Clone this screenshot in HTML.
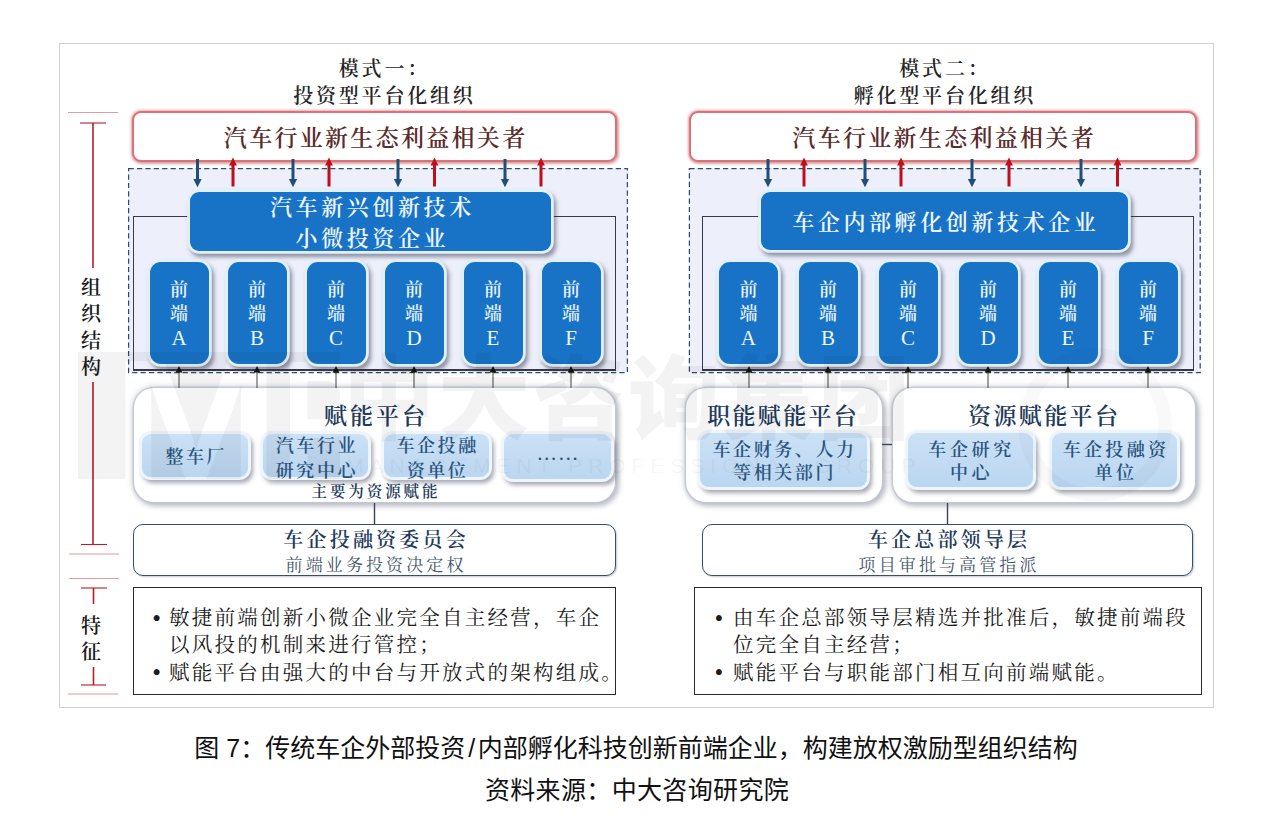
<!DOCTYPE html>
<html lang="zh-CN">
<head>
<meta charset="utf-8">
<title>图7</title>
<style>
*{box-sizing:border-box;margin:0;padding:0}
html,body{width:1278px;height:818px;background:#fff;overflow:hidden}
body{position:relative;font-family:"Liberation Serif","Noto Serif CJK SC",serif;color:#1a1a1a}
.abs{position:absolute}
.frame{left:59px;top:43px;width:1155px;height:665px;border:1px solid #d2d2d2}
.ttl{font-size:20px;font-weight:600;letter-spacing:2.8px;padding-left:2.8px;text-align:center;line-height:27px;color:#262626;white-space:nowrap}
.redbox{border:2.4px solid #db7279;border-radius:9px;background:#fff;box-shadow:0 0 2.5px 0.5px rgba(219,114,121,.6),1.5px 2px 3px rgba(120,60,60,.3);
 font-size:23px;font-weight:600;letter-spacing:2.3px;padding-left:2.3px;color:#5b2c2c;text-align:center;white-space:nowrap}
.dash{background:#edeffb}
.inner{border:1.8px solid #3a3a46;border-bottom-width:2.2px;border-top:none}
.blue{background:#1873c6;border-radius:9px;color:#eef6ff;text-align:center;white-space:nowrap;
 box-shadow:0 0 0 2.8px #e1f1fc,2.5px 3.5px 4px 2px rgba(50,50,70,.5)}
.main{font-size:22px;font-weight:600;letter-spacing:3.6px;padding-left:3.6px}
.fe{width:59px;height:102px;top:261.5px;margin-left:.5px;font-size:18px;font-weight:600;line-height:24px;padding-top:16.5px;border-radius:11px}
.fe i{font-style:normal;font-weight:400;font-size:21px}
.plat{background:#fff;border-radius:20px;box-shadow:0 0 0 1.5px rgba(196,200,210,.85),0 0 6px 1px rgba(150,155,170,.5),2.5px 3px 5px 1px rgba(110,115,130,.4)}
.pt{font-size:23px;font-weight:600;letter-spacing:3px;padding-left:3px;color:#1f3b5e;text-align:center;white-space:nowrap}
.lb{background:linear-gradient(#cbe1f6,#bad6f0);border-radius:9px;box-shadow:0 0 0 3px #eef5fc,2.5px 3.5px 4px 2.5px rgba(80,85,105,.5);
 color:#2a547f;font-size:18px;font-weight:600;letter-spacing:2.6px;padding-left:2.6px;text-align:center;line-height:24px;white-space:nowrap;display:flex;align-items:center;justify-content:center}
.cmt{border:1.3px solid #35506e;border-radius:10px;background:#fff;text-align:center;white-space:nowrap;box-shadow:1px 1px 2px rgba(80,100,130,.35)}
.cmt b{display:block;font-size:20px;font-weight:600;letter-spacing:3.2px;padding-left:3.2px;color:#1f3b5e;line-height:26px;margin-top:1.5px}
.cmt span{display:block;font-size:17px;letter-spacing:3.1px;padding-left:3.1px;color:#44566e;line-height:22px;margin-top:2px}
.feat{border:1.4px solid #2a2a2a;background:#fff;font-size:20.5px;letter-spacing:2.25px;line-height:27px;color:#1c1c1c;white-space:nowrap}
.feat p{position:absolute;left:0}
.side{font-size:20px;font-weight:600;color:#1a1a1a;text-align:center;width:30px;left:76px}
.cap{font-family:"Liberation Sans","Noto Sans CJK SC",sans-serif;color:#111;text-align:center;left:0;width:1278px;font-size:25px;white-space:nowrap;line-height:34px}
</style>
</head>
<body>
<div class="abs frame"></div>

<!-- side labels -->
<div class="abs side" style="top:274.5px;line-height:26.6px">组<br>织<br>结<br>构</div>
<div class="abs side" style="top:612.5px;line-height:26px">特<br>征</div>

<!-- LEFT PANEL -->
<div class="abs ttl" style="left:233px;width:300px;top:56px">模式一：<br>投资型平台化组织</div>
<div class="abs dash" style="left:128px;top:168px;width:500px;height:204px"></div>
<div class="abs inner" style="left:133px;top:216px;width:483px;height:155px;border-top:1.8px solid #3a3a46"></div>
<div class="abs redbox" style="left:132px;top:111px;width:485px;height:51px;line-height:51px">汽车行业新生态利益相关者</div>
<div class="abs blue main" style="left:189.8px;top:192px;width:361.5px;height:59px;line-height:31px;padding-top:0px">汽车新兴创新技术<br>小微投资企业</div>
<div class="abs blue fe" style="left:149px">前<br>端<br><i>A</i></div>
<div class="abs blue fe" style="left:227px">前<br>端<br><i>B</i></div>
<div class="abs blue fe" style="left:306px">前<br>端<br><i>C</i></div>
<div class="abs blue fe" style="left:384px">前<br>端<br><i>D</i></div>
<div class="abs blue fe" style="left:463px">前<br>端<br><i>E</i></div>
<div class="abs blue fe" style="left:541px">前<br>端<br><i>F</i></div>

<div class="abs plat" style="left:134px;top:388px;width:481px;height:114px"></div>
<div class="abs pt" style="left:134px;width:481px;top:402px;line-height:30px">赋能平台</div>
<div class="abs lb" style="left:142.4px;top:434.2px;width:105.2px;height:43.1px;padding-top:2px">整车厂</div>
<div class="abs lb" style="left:263px;top:434.2px;width:105.2px;height:43.1px;padding-top:7px;line-height:25.5px">汽车行业<br>研究中心</div>
<div class="abs lb" style="left:383.7px;top:434.2px;width:105.2px;height:43.1px;padding-top:7px;line-height:25.5px">车企投融<br>资单位</div>
<div class="abs lb" style="left:504.3px;top:434.2px;width:106.5px;height:45px;font-weight:400;font-size:20.5px;letter-spacing:.9px;padding:0 0 8px .9px">……</div>
<div class="abs" style="left:134px;width:481px;top:482px;text-align:center;font-size:15.5px;font-weight:600;letter-spacing:2.9px;padding-left:2.9px;color:#1f3b5e;line-height:20px">主要为资源赋能</div>
<div class="abs cmt" style="left:133px;top:524px;width:483px;height:52px"><b>车企投融资委员会</b><span>前端业务投资决定权</span></div>
<div class="abs feat" style="left:133px;top:587px;width:483px;height:108px">
 <p style="top:16.5px;left:18.3px;font-size:25px">•</p><p style="top:17px;left:35px">敏捷前端创新小微企业完全自主经营，车企</p>
 <p style="top:43.5px;left:35px">以风投的机制来进行管控；</p>
 <p style="top:70.5px;left:18.3px;font-size:25px">•</p><p style="top:72px;left:35px">赋能平台由强大的中台与开放式的架构组成。</p>
</div>

<!-- RIGHT PANEL -->
<div class="abs ttl" style="left:793.5px;width:300px;top:56px">模式二：<br>孵化型平台化组织</div>
<div class="abs dash" style="left:689px;top:168px;width:512px;height:204px"></div>
<div class="abs inner" style="left:702px;top:216px;width:491.5px;height:155px;border-top:1.8px solid #3a3a46"></div>
<div class="abs redbox" style="left:689px;top:111px;width:508px;height:51px;line-height:51px">汽车行业新生态利益相关者</div>
<div class="abs blue main" style="left:760.5px;top:192.3px;width:367px;height:57.3px;line-height:61px">车企内部孵化创新技术企业</div>
<div class="abs blue fe" style="left:718.4px">前<br>端<br><i>A</i></div>
<div class="abs blue fe" style="left:798px">前<br>端<br><i>B</i></div>
<div class="abs blue fe" style="left:878px">前<br>端<br><i>C</i></div>
<div class="abs blue fe" style="left:958px">前<br>端<br><i>D</i></div>
<div class="abs blue fe" style="left:1038px">前<br>端<br><i>E</i></div>
<div class="abs blue fe" style="left:1118px">前<br>端<br><i>F</i></div>

<div class="abs plat" style="left:686px;top:388px;width:196px;height:114px"></div>
<div class="abs plat" style="left:893px;top:388px;width:302px;height:114px"></div>
<div class="abs pt" style="left:684px;width:196px;top:402px;line-height:30px;letter-spacing:2.3px;padding-left:2.3px">职能赋能平台</div>
<div class="abs pt" style="left:892px;width:302px;top:402px;line-height:30px;letter-spacing:2.4px;padding-left:2.4px">资源赋能平台</div>
<div class="abs lb" style="left:699.5px;top:432.5px;width:167.5px;height:54.3px;line-height:23px;padding-top:5.7px">车企财务、人力<br>等相关部门</div>
<div class="abs lb" style="left:908px;top:432.5px;width:124.5px;height:54.3px;line-height:23px;padding-top:5.7px;letter-spacing:3.6px">车企研究<br>中心</div>
<div class="abs lb" style="left:1052.4px;top:432.5px;width:124.6px;height:54.3px;line-height:23px;padding-top:5.7px;letter-spacing:3.3px">车企投融资<br>单位</div>
<div class="abs cmt" style="left:702px;top:524px;width:491px;height:52px"><b>车企总部领导层</b><span>项目审批与高管指派</span></div>
<div class="abs feat" style="left:694px;top:587px;width:508px;height:108px">
 <p style="top:16.5px;left:19.5px;font-size:25px">•</p><p style="top:17px;left:38px">由车企总部领导层精选并批准后，敏捷前端段</p>
 <p style="top:43.5px;left:38px">位完全自主经营；</p>
 <p style="top:70.5px;left:19.5px;font-size:25px">•</p><p style="top:72px;left:38px">赋能平台与职能部门相互向前端赋能。</p>
</div>

<!-- lines / arrows -->
<svg class="abs" style="left:0;top:0" width="1278" height="818" viewBox="0 0 1278 818">
 <defs>
  <g id="dn"><line x1="0" y1="159" x2="0" y2="181" stroke="#1f4e79" stroke-width="3"/><polygon points="-4.1,179 4.1,179 0,187.3" fill="#1f4e79"/></g>
  <g id="up"><line x1="0" y1="165" x2="0" y2="186.5" stroke="#c00f1c" stroke-width="3"/><polygon points="-3.9,165.5 3.9,165.5 0,157.5" fill="#c00f1c"/></g>
  <g id="ba"><line x1="0" y1="372" x2="0" y2="388" stroke="#444" stroke-width="1"/><polygon points="-3.4,372.5 3.4,372.5 0,366" fill="#151515"/></g>
 </defs>
 <g fill="none" stroke="#2f4c6c" stroke-width="1.25" stroke-dasharray="5.2 3.2">
  <rect x="128.6" y="168.5" width="498.8" height="204"/>
  <rect x="689.4" y="168.5" width="510.8" height="204"/>
 </g>
 <!-- side bracket -->
 <g stroke="#e39aa0" stroke-width="1.2">
  <line x1="68" y1="112.5" x2="118" y2="112.5"/>
  <line x1="69" y1="554" x2="119" y2="554"/>
  <line x1="69" y1="578.5" x2="119" y2="578.5"/>
  <line x1="68" y1="694" x2="118" y2="694"/>
 </g>
 <g stroke="#b3202a" stroke-width="1.6">
  <line x1="80" y1="123" x2="106" y2="123" stroke-width="1.1"/>
  <line x1="93" y1="123" x2="93" y2="268"/>
  <line x1="93" y1="382" x2="93" y2="544.5"/>
  <line x1="81" y1="544.5" x2="107" y2="544.5" stroke-width="1.1"/>
  <line x1="81" y1="588" x2="107" y2="588" stroke-width="1.1"/>
  <line x1="93.5" y1="588" x2="93.5" y2="604"/>
  <line x1="93.5" y1="667" x2="93.5" y2="685"/>
  <line x1="81" y1="685" x2="106" y2="685" stroke-width="1.1"/>
 </g>
 <!-- top arrows left -->
 <use href="#dn" x="197.5"/><use href="#up" x="233"/>
 <use href="#dn" x="293"/><use href="#up" x="329"/>
 <use href="#dn" x="398"/><use href="#up" x="434.5"/>
 <use href="#dn" x="505"/><use href="#up" x="541"/>
 <!-- top arrows right -->
 <use href="#dn" x="768"/><use href="#up" x="804"/>
 <use href="#dn" x="865"/><use href="#up" x="901"/>
 <use href="#dn" x="972"/><use href="#up" x="1009"/>
 <use href="#dn" x="1081"/><use href="#up" x="1117.5"/>
 <!-- bottom arrows -->
 <use href="#ba" x="179"/><use href="#ba" x="257"/><use href="#ba" x="336"/><use href="#ba" x="414"/><use href="#ba" x="493"/><use href="#ba" x="571"/>
 <use href="#ba" x="749"/><use href="#ba" x="828"/><use href="#ba" x="908"/><use href="#ba" x="988"/><use href="#ba" x="1068"/><use href="#ba" x="1148"/>
 <!-- connectors -->
 <g stroke="#3a4656" stroke-width="1.4">
  <line x1="374.5" y1="503" x2="374.5" y2="524"/>
  <line x1="947.5" y1="503" x2="947.5" y2="524"/>
  <line x1="882" y1="444.5" x2="892" y2="444.5"/>
 </g>
</svg>

<!-- watermark -->
<svg class="abs" style="left:0;top:0;pointer-events:none" width="1278" height="818" viewBox="0 0 1278 818" font-family="'Liberation Sans','Noto Sans CJK SC',sans-serif">
 <defs>
  <mask id="mk"><rect x="70" y="345" width="320" height="145" fill="#fff"/>
   <text x="112" y="479" font-size="170" font-weight="700" fill="#000" textLength="168" lengthAdjust="spacingAndGlyphs">M</text>
   <text x="282" y="479" font-size="170" font-weight="700" fill="#000" textLength="80" lengthAdjust="spacingAndGlyphs">P</text>
  </mask>
 </defs>
 <g fill="#000" fill-opacity="0.048">
  <rect x="78" y="352" width="262" height="127" mask="url(#mk)"/>
  <text x="343" y="432" font-size="92" font-weight="900" letter-spacing="3">中大咨询集团</text>
  <text x="346" y="473" font-size="21" letter-spacing="6">MANAGEMENT PROFESSIONAL GROUP</text>
  <circle cx="1095" cy="425" r="70" fill="none" stroke="#000" stroke-opacity="0.025" stroke-width="14"/>
 </g>
</svg>

<div class="abs cap" style="top:731px;left:-3px">图 7：传统车企外部投资<span style="margin:0 2.5px 0 3px">/</span>内部孵化科技创新前端企业，构建放权激励型组织结构</div>
<div class="abs cap" style="top:773px;left:-2px;letter-spacing:.35px">资料来源：中大咨询研究院</div>
</body>
</html>
